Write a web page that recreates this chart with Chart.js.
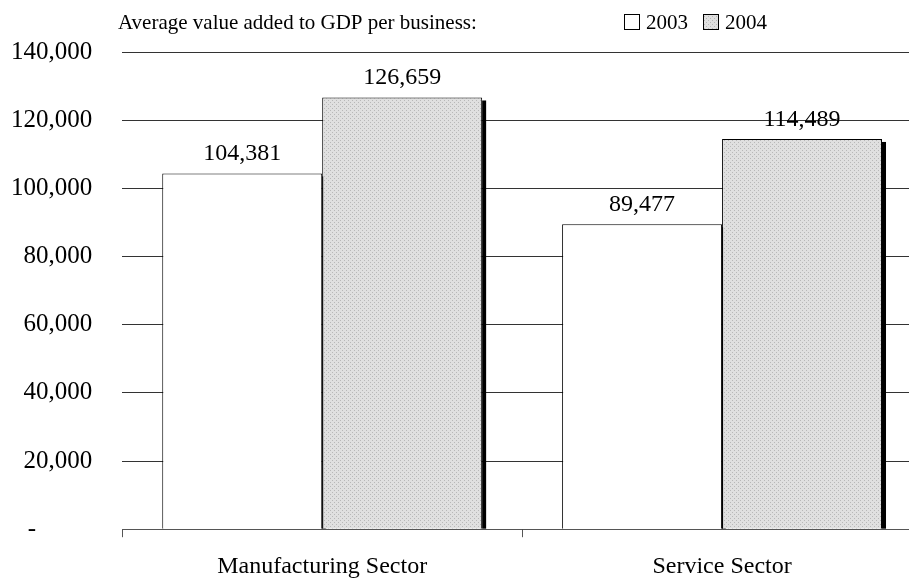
<!DOCTYPE html>
<html>
<head>
<meta charset="utf-8">
<script src="https://cdn.jsdelivr.net/npm/chart.js@4/dist/chart.umd.min.js"></script>
<style>
  html, body { margin: 0; padding: 0; background: #fff; overflow: hidden; }
  #wrap { position: relative; width: 940px; height: 581px; }
</style>
</head>
<body>
<div id="wrap"><canvas id="myChart"></canvas></div>
<script>
// Average value added to GDP per business
var sectors = ["Manufacturing Sector", "Service Sector"];
var years = ["2003", "2004"];
var values2003 = [104381, 89477];
var values2004 = [126659, 114489];
var yTicks = [0, 20000, 40000, 60000, 80000, 100000, 120000, 140000];
var headerText = "Average value added to GDP per business:";

var serif = "'Liberation Serif', 'Times New Roman', serif";

// dotted grey fill for the 2004 bars
function makeDots() {
  var c = document.createElement("canvas");
  c.width = 4;
  c.height = 4;
  var g = c.getContext("2d");
  g.fillStyle = "#e0e0e0";
  g.fillRect(0, 0, 4, 4);
  g.fillStyle = "#b8b8b8";
  g.fillRect(0, 0, 1, 1);
  g.fillRect(2, 2, 1, 1);
  return g.createPattern(c, "repeat");
}
var dots = makeDots();

function fmt(v) {
  return v.toLocaleString("en-US");
}

// black drop shadow on the right side of each bar
var barShadow = {
  id: "barShadow",
  beforeDatasetsDraw: function (chart) {
    var ctx = chart.ctx;
    ctx.save();
    ctx.fillStyle = "#000";
    chart.data.datasets.forEach(function (ds, i) {
      chart.getDatasetMeta(i).data.forEach(function (bar) {
        var right = bar.x + bar.width / 2;
        ctx.fillRect(right, bar.y + 3, 4, bar.base - bar.y - 3);
      });
    });
    ctx.restore();
  },
};

// numbers above the bars
var valueLabels = {
  id: "valueLabels",
  afterDatasetsDraw: function (chart) {
    var ctx = chart.ctx;
    ctx.save();
    ctx.font = "24px " + serif;
    ctx.fillStyle = "#000";
    ctx.textAlign = "center";
    ctx.textBaseline = "alphabetic";
    chart.data.datasets.forEach(function (ds, i) {
      chart.getDatasetMeta(i).data.forEach(function (bar, j) {
        ctx.fillText(fmt(ds.data[j]), bar.x, bar.y - 13);
      });
    });
    ctx.restore();
  },
};

// header line with the legend boxes beside it
var header = {
  id: "header",
  afterDraw: function (chart) {
    var ctx = chart.ctx;
    ctx.save();
    ctx.font = "21px " + serif;
    ctx.fillStyle = "#000";
    ctx.textBaseline = "alphabetic";
    ctx.fillText(headerText, 118, 29);
    var x = 624;
    chart.data.datasets.forEach(function (ds) {
      ctx.fillStyle = ds.backgroundColor;
      ctx.fillRect(x + 0.5, 14.5, 15, 15);
      ctx.strokeStyle = "#000";
      ctx.lineWidth = 1;
      ctx.strokeRect(x + 0.5, 14.5, 15, 15);
      ctx.fillStyle = "#000";
      ctx.fillText(ds.label, x + 22, 29);
      x += 22 + ctx.measureText(ds.label).width + 15;
    });
    ctx.restore();
  },
};

var ctx = document.getElementById("myChart");
new Chart(ctx, {
  type: "bar",
  data: {
    labels: sectors,
    datasets: [
      {
        label: years[0],
        data: values2003,
        backgroundColor: "#ffffff",
        borderColor: "#000",
        borderWidth: 1,
      },
      {
        label: years[1],
        data: values2004,
        backgroundColor: dots,
        borderColor: "#000",
        borderWidth: 1,
      },
    ],
  },
  options: {
    responsive: true,
    maintainAspectRatio: false,
    animation: false,
    datasets: {
      bar: { categoryPercentage: 0.8, barPercentage: 1.0 },
    },
    layout: { padding: { top: 52, right: 18, bottom: -15, left: 11 } },
    plugins: {
      legend: { display: false },
      tooltip: { enabled: false },
    },
    scales: {
      x: {
        grid: {
          display: true,
          drawOnChartArea: false,
          offset: true,
          tickLength: 8,
          color: "#555",
        },
        border: { display: true, color: "#555" },
        ticks: {
          padding: 15,
          color: "#000",
          font: { family: serif, size: 24 },
        },
      },
      y: {
        min: 0,
        max: 140000,
        afterBuildTicks: function (axis) {
          axis.ticks = yTicks.map(function (v) {
            return { value: v };
          });
        },
        // transparent tick marks keep a 30px gap before the labels
        grid: {
          color: "#333",
          lineWidth: 1,
          drawTicks: true,
          tickLength: 30,
          tickColor: "rgba(0,0,0,0)",
        },
        border: { display: false },
        ticks: {
          padding: 0,
          color: "#000",
          font: { family: serif, size: 25 },
          callback: function (v) {
            return v === 0 ? "-         " : fmt(v);
          },
        },
      },
    },
  },
  plugins: [barShadow, valueLabels, header],
});
</script>
</body>
</html>
